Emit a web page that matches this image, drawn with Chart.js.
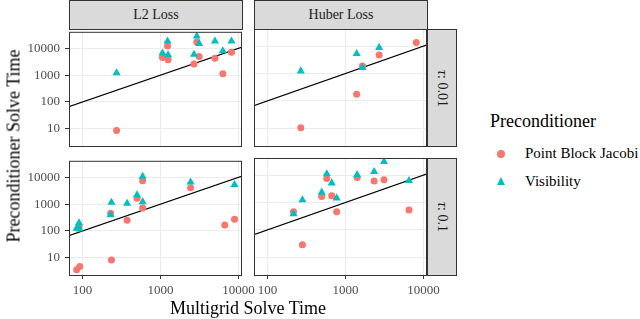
<!DOCTYPE html>
<html>
<head>
<meta charset="utf-8">
<script src="https://cdn.jsdelivr.net/npm/chart.js@4/dist/chart.umd.min.js"></script>
<style>
  body { margin: 0; background: #fff; }
  #wrap { position: relative; width: 640px; height: 319px; overflow: hidden; font-family: "Liberation Serif", serif; }
  canvas { position: absolute; }
  .strip { position: absolute; background: #dadada; border: 1px solid #333; box-sizing: border-box;
           display: flex; align-items: center; justify-content: center; font-size: 14px; color: #1a1a1a; }
  .vert { writing-mode: vertical-rl; }
  .title { position: absolute; color: #000; font-size: 18px; white-space: nowrap; }
  .lab { position: absolute; font-size: 15px; color: #000; white-space: nowrap; }
</style>
</head>
<body>
<div id="wrap">
  <canvas id="tl" width="267" height="162" style="left:0px;top:19px"></canvas>
  <canvas id="tr" width="267" height="162" style="left:185px;top:19px"></canvas>
  <canvas id="bl" width="267" height="162" style="left:0px;top:148px"></canvas>
  <canvas id="br" width="267" height="162" style="left:185px;top:148px"></canvas>

  <div class="strip" style="left:69px;top:0px;width:174px;height:30px">L2 Loss</div>
  <div class="strip" style="left:254px;top:0px;width:174px;height:30px">Huber Loss</div>
  <div class="strip" style="left:427px;top:29px;width:30px;height:118px"><span class="vert"><i>τ</i>: 0.01</span></div>
  <div class="strip" style="left:427px;top:158px;width:30px;height:118px"><span class="vert"><i>τ</i>: 0.1</span></div>

  <div class="title" style="left:14px;top:146px;transform:translate(-50%,-50%) rotate(-90deg)">Preconditioner Solve Time</div>
  <div class="title" style="left:248px;top:308px;transform:translate(-50%,-50%)">Multigrid Solve Time</div>

  <div class="title" style="left:490px;top:121px;transform:translateY(-50%)">Preconditioner</div>
  <div style="position:absolute;left:497px;top:150px;width:8px;height:8px;border-radius:50%;background:#F8766D"></div>
  <div class="lab" style="left:525px;top:153px;transform:translateY(-50%)">Point Block Jacobi</div>
  <div style="position:absolute;left:497px;top:177px;width:0;height:0;border-left:4.5px solid transparent;border-right:4.5px solid transparent;border-bottom:8px solid #00BFC4"></div>
  <div class="lab" style="left:525px;top:181px;transform:translateY(-50%)">Visibility</div>
</div>
<script>
// multigrid solve time (x) and preconditioner solve times (y) per facet
let mgL2Tau001 = [273, 1060, 1230, 1250, 2690, 2920, 3130, 4990, 6300, 8130];
let pbjL2Tau001 = [8.6, 4600, 12200, 3800, 2600, 17500, 5000, 4300, 1120, 7150];
let visL2Tau001 = [1225, 6600, 18600, 5750, 6000, 28500, 15200, 18600, 8000, 18600];

let mgHuberTau001 = [267, 1390, 1650, 2700, 8090];
let pbjHuberTau001 = [10.5, 175, 1870, 4700, 13300];
let visHuberTau001 = [1225, 5300, 1620, 8800, null];

let mgL2Tau01 = [84, 92, 90, 235, 229, 373, 500, 590, 590, 2430, 6670, 8900];
let pbjL2Tau01 = [3.6, 4.7, 150, 8.3, 460, 250, 1660, 7500, 720, 4100, 166, 275];
let visL2Tau01 = [124, 118, 200, 1160, 400, 1070, 2210, 10900, 1230, 6600, null, 5400];

let mgHuberTau01 = [215, 280, 495, 575, 665, 770, 1410, 2330, 3120, 6520];
let pbjHuberTau01 = [460, 29, 1660, 7500, 1770, 460, 8200, 6000, 6700, 530];
let visHuberTau01 = [380, 1230, 2340, 10900, 5100, 1450, 10200, 13200, 30500, 6200];

let xTicks = [100, 1000, 10000];
let yTicks = [10, 100, 1000, 10000];
let identity = [1, 1000000]; // y = x reference line

// panel frame
const panelBorder = {
  id: "panelBorder",
  afterDraw(chart) {
    const a = chart.chartArea;
    const ctx = chart.ctx;
    ctx.save();
    ctx.strokeStyle = "#333";
    ctx.lineWidth = 1;
    ctx.strokeRect(a.left + 0.5, a.top + 0.5, a.right - a.left - 1, a.bottom - a.top);
    ctx.restore();
  }
};

function toPoints(xs, ys) {
  let out = [];
  for (let i = 0; i < xs.length; i++) {
    if (ys[i] != null) out.push({ x: xs[i], y: ys[i] });
  }
  return out;
}

function makePanel(id, mg, pbj, vis, showX, showY) {
  let tickFont = { family: "Liberation Serif", size: 13 };
  new Chart(document.getElementById(id), {
    type: "scatter",
    data: {
      datasets: [
        {
          label: "Visibility",
          data: toPoints(mg, vis),
          pointStyle: "triangle",
          pointRadius: 4.7,
          backgroundColor: "#00BFC4",
          borderWidth: 0,
          order: 0,
        },
        {
          label: "Point Block Jacobi",
          data: toPoints(mg, pbj),
          pointStyle: "circle",
          pointRadius: 3.5,
          backgroundColor: "#F8766D",
          borderWidth: 0,
          order: 1,
        },
        {
          label: "y = x",
          data: identity.map((v) => ({ x: v, y: v })),
          showLine: true,
          borderColor: "#000",
          borderWidth: 1.2,
          pointRadius: 0,
          order: 2,
        },
      ],
    },
    options: {
      responsive: false,
      animation: false,
      layout: {
        autoPadding: false,
        padding: { top: 10, right: 25, left: showY ? 0 : 69, bottom: showX ? 0 : 35 },
      },
      plugins: { legend: { display: false }, tooltip: { enabled: false } },
      scales: {
        x: {
          type: "logarithmic",
          min: 67,
          max: 11100,
          afterBuildTicks: (s) => { s.ticks = xTicks.map((v) => ({ value: v })); },
          afterFit: (s) => { s.height = showX ? 35 : 0; },
          border: { display: false },
          grid: { color: "#ebebeb", lineWidth: 1, drawTicks: showX, tickLength: 4, tickColor: "#333" },
          ticks: { display: showX, font: tickFont, color: "#4d4d4d", padding: 4, maxRotation: 0, autoSkip: false,
                   callback: (v) => String(v) },
        },
        y: {
          type: "logarithmic",
          min: 2.27,
          max: 41700,
          afterBuildTicks: (s) => { s.ticks = yTicks.map((v) => ({ value: v })); },
          afterFit: (s) => { s.width = showY ? 69 : 0; },
          border: { display: false },
          grid: { color: "#ebebeb", lineWidth: 1, drawTicks: showY, tickLength: 4, tickColor: "#333" },
          ticks: { display: showY, font: tickFont, color: "#4d4d4d", padding: 5, autoSkip: false,
                   callback: (v) => String(v) },
        },
      },
    },
    plugins: [panelBorder],
  });
}

makePanel("tl", mgL2Tau001, pbjL2Tau001, visL2Tau001, false, true);
makePanel("tr", mgHuberTau001, pbjHuberTau001, visHuberTau001, false, false);
makePanel("bl", mgL2Tau01, pbjL2Tau01, visL2Tau01, true, true);
makePanel("br", mgHuberTau01, pbjHuberTau01, visHuberTau01, true, false);
</script>
</body>
</html>
